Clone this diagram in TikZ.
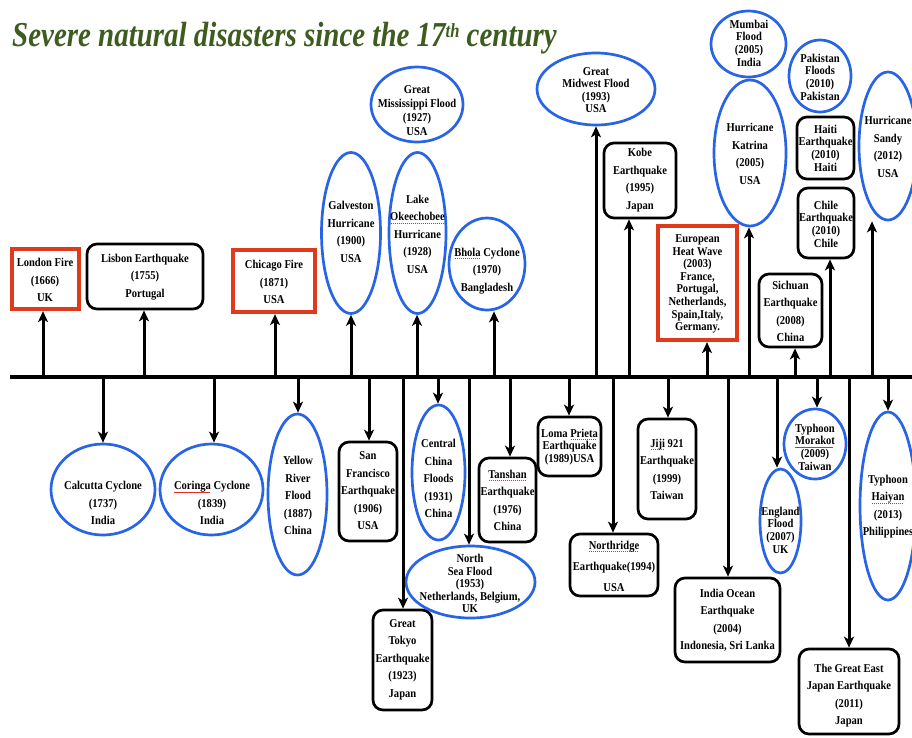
\documentclass[tikz,border=0pt]{standalone}
\usepackage{fontspec}
\setmainfont{Liberation Serif}[FakeStretch=0.88]
\usetikzlibrary{shapes.geometric,arrows.meta}
\definecolor{eblue}{RGB}{40,100,230}
\definecolor{fred}{RGB}{222,58,28}
\definecolor{tgreen}{RGB}{62,92,32}
\definecolor{sqred}{RGB}{235,40,40}
\newsavebox\spellbox
\newcommand\spell[1]{\sbox\spellbox{#1}\rlap{\raisebox{-3pt}{\hbox to \wd\spellbox{\color{sqred}\leaders\hbox to 2pt{\hss\rule{1.2pt}{1pt}\hss}\hfill}}}\usebox\spellbox}
\tikzset{
  tline/.style={line width=3.8pt},
  arr/.style={line width=3pt,-{Stealth[length=11pt,width=10pt,inset=3pt]}},
  ell/.style={ellipse,draw=eblue,line width=2.7pt,inner sep=0pt},
  rbox/.style={rectangle,draw=black,line width=2.7pt,rounded corners=10pt,inner sep=0pt},
  redbox/.style={rectangle,draw=fred,line width=4.2pt,inner sep=0pt},
  txt/.style={align=center,inner sep=0pt,font=\fontsize{12}{17.5}\selectfont\bfseries},
  ttxt/.style={align=center,inner sep=0pt,font=\fontsize{12}{12.6}\selectfont\bfseries},
}
\begin{document}
\begin{tikzpicture}[x=1pt,y=-1pt]
\useasboundingbox[fill=white] (0,0) rectangle (912,737);
% title
\node[anchor=base west,inner sep=0pt,text=tgreen,font=\fontsize{35}{37}\selectfont\bfseries\itshape] (title) at (12,46)
  {\scalebox{0.94}[1]{Severe natural disasters since the 17\raisebox{9pt}{\fontsize{20}{20}\selectfont th} century}};
% timeline
\coordinate (tl0) at (10,377);
\coordinate (tl1) at (915,377);
\draw[tline] (tl0) -- (tl1);

% ---------------- shapes above ----------------
\node[redbox,minimum width=67,minimum height=60] (london) at (45.5,279) {};
\node[txt] (londonT) at (45,280) {London Fire\\(1666)\\UK};
\node[rbox,minimum width=116,minimum height=65] (lisbon) at (145,276.5) {};
\node[txt] (lisbonT) at (145,277) {Lisbon Earthquake\\(1755)\\Portugal};
\node[redbox,minimum width=82,minimum height=62] (chicago) at (274,281) {};
\node[txt] (chicagoT) at (274,282) {Chicago Fire\\(1871)\\USA};
\node[ell,minimum width=59,minimum height=161] (galv) at (351,233) {};
\node[txt] (galvT) at (351,232) {Galveston\\Hurricane\\(1900)\\USA};
\node[ell,minimum width=57,minimum height=161] (okee) at (417.5,233) {};
\node[txt] (okeeT) at (417.5,234) {Lake\\\spell{Okeechobee}\\Hurricane\\(1928)\\USA};
\node[ell,minimum width=92,minimum height=75] (miss) at (417,104.5) {};
\node[txt,font=\fontsize{12}{14}\selectfont\bfseries] (missT) at (417,111) {Great\\Mississippi Flood\\(1927)\\USA};
\node[ell,minimum width=76,minimum height=92] (bhola) at (487,264) {};
\node[txt] (bholaT) at (487,271) {\spell{Bhola} Cyclone\\(1970)\\Bangladesh};
\node[ell,minimum width=118,minimum height=72] (midwest) at (596,89) {};
\node[ttxt] (midwestT) at (596,90) {Great\\Midwest Flood\\(1993)\\USA};
\node[rbox,minimum width=72,minimum height=75] (kobe) at (640,180.5) {};
\node[txt] (kobeT) at (640,180) {Kobe\\Earthquake\\(1995)\\Japan};
\node[redbox,minimum width=79,minimum height=114] (euro) at (697.5,283) {};
\node[ttxt] (euroT) at (697.5,284) {European\\Heat Wave\\(2003)\\France,\\Portugal,\\Netherlands,\\Spain,Italy,\\Germany.};
\node[ell,minimum width=72,minimum height=146] (katrina) at (750,153) {};
\node[txt] (katrinaT) at (750,154) {Hurricane\\Katrina\\(2005)\\USA};
\node[ell,minimum width=75,minimum height=66] (mumbai) at (748.5,44) {};
\node[ttxt] (mumbaiT) at (749,43) {Mumbai\\Flood\\(2005)\\India};
\node[rbox,minimum width=63,minimum height=73] (sichuan) at (790.5,310.5) {};
\node[txt] (sichuanT) at (790.5,311.5) {Sichuan\\Earthquake\\(2008)\\China};
\node[rbox,minimum width=56,minimum height=70] (chile) at (826,223) {};
\node[ttxt] (chileT) at (826,224) {Chile\\Earthquake\\(2010)\\Chile};
\node[rbox,minimum width=57,minimum height=62] (haiti) at (825.5,148) {};
\node[ttxt] (haitiT) at (825.5,148) {Haiti\\Earthquake\\(2010)\\Haiti};
\node[ell,minimum width=62,minimum height=72] (pak) at (820,76) {};
\node[ttxt] (pakT) at (820,77) {Pakistan\\Floods\\(2010)\\Pakistan};
\node[ell,minimum width=58,minimum height=148] (sandy) at (888,146) {};
\node[txt] (sandyT) at (888,147) {Hurricane\\Sandy\\(2012)\\USA};

% ---------------- shapes below ----------------
\node[ell,minimum width=104,minimum height=91] (calc) at (103,489.5) {};
\node[txt] (calcT) at (103,503) {Calcutta Cyclone\\(1737)\\India};
\node[ell,minimum width=103,minimum height=91] (cor) at (211.5,489.5) {};
\node[txt] (corT) at (212,503) {\spell{Coringa} Cyclone\\(1839)\\India};
\node[ell,minimum width=59,minimum height=161] (yellow) at (297.5,494.5) {};
\node[txt] (yellowT) at (298,495.5) {Yellow\\River\\Flood\\(1887)\\China};
\node[rbox,minimum width=58,minimum height=99] (sanf) at (368,491.5) {};
\node[txt] (sanfT) at (368,491) {San\\Francisco\\Earthquake\\(1906)\\USA};
\node[rbox,minimum width=59,minimum height=100] (tokyo) at (402.5,660) {};
\node[txt] (tokyoT) at (402.5,659.5) {Great\\Tokyo\\Earthquake\\(1923)\\Japan};
\node[ell,minimum width=53,minimum height=135] (cchina) at (438.5,472.5) {};
\node[txt] (cchinaT) at (438.5,478.5) {Central\\China\\Floods\\(1931)\\China};
\node[ell,minimum width=129,minimum height=72] (nsea) at (470.5,582) {};
\node[ttxt] (nseaT) at (470,583.5) {North\\Sea Flood\\(1953)\\Netherlands, Belgium,\\UK};
\node[rbox,minimum width=57,minimum height=84] (tanshan) at (507.5,500) {};
\node[txt] (tanshanT) at (507.5,500.5) {\spell{Tanshan}\\Earthquake\\(1976)\\China};
\node[rbox,minimum width=63,minimum height=59] (loma) at (569.5,446.5) {};
\node[ttxt] (lomaT) at (569.5,447) {Loma \spell{Prieta}\\Earthquake\\(1989)USA};
\node[rbox,minimum width=88,minimum height=62] (northr) at (614,565) {};
\node[txt,font=\fontsize{12}{21}\selectfont\bfseries] (northrT) at (614,566) {\spell{Northridge}\\Earthquake(1994)\\USA};
\node[rbox,minimum width=58,minimum height=100] (jiji) at (667,469) {};
\node[txt] (jijiT) at (667,469.5) {\spell{Jiji} 921\\Earthquake\\(1999)\\Taiwan};
\node[rbox,minimum width=105,minimum height=84] (indoc) at (727.5,620) {};
\node[txt] (indocT) at (727.5,620.5) {India Ocean\\Earthquake\\(2004)\\Indonesia, Sri Lanka};
\node[ell,minimum width=41,minimum height=104] (engl) at (780.5,521) {};
\node[ttxt] (englT) at (780.5,530) {England\\Flood\\(2007)\\UK};
\node[ell,minimum width=62,minimum height=70] (morakot) at (815,444) {};
\node[ttxt] (morakotT) at (815,447) {Typhoon\\\spell{Morakot}\\(2009)\\Taiwan};
\node[rbox,minimum width=100,minimum height=85] (geast) at (849,691.5) {};
\node[txt] (geastT) at (849,695.5) {The Great East\\Japan Earthquake\\(2011)\\Japan};
\node[ell,minimum width=56,minimum height=188] (haiyan) at (888,506) {};
\node[txt] (haiyanT) at (888,506.5) {Typhoon\\\spell{Haiyan}\\(2013)\\Philippines};

% ---------------- timeline points ----------------
\foreach \n/\x in {london/43,lisbon/144,chicago/275,galv/351,okee/417,bhola/494,midwest/596,kobe/629,euro/707,katrina/749,sichuan/795,chile/830,sandy/872,
                   calc/103,cor/214,yellow/298,sanf/369,tokyo/403,cchina/438,nsea/469,tanshan/510,loma/569,northr/613,jiji/668,indoc/728,engl/777,morakot/817,geast/849,haiyan/888}
  \coordinate (t\n) at (\x,377);

% up arrows
\foreach \n in {london,lisbon,chicago,galv,okee,bhola,midwest,kobe,euro,katrina,sichuan,chile,sandy}
  \draw[arr] (t\n) -- (t\n |- \n.south);
% down arrows
\foreach \n in {calc,cor,yellow,sanf,tokyo,cchina,nsea,tanshan,loma,northr,jiji,indoc,engl,morakot,geast,haiyan}
  \draw[arr] (t\n) -- (t\n |- \n.north);
\end{tikzpicture}
\end{document}
